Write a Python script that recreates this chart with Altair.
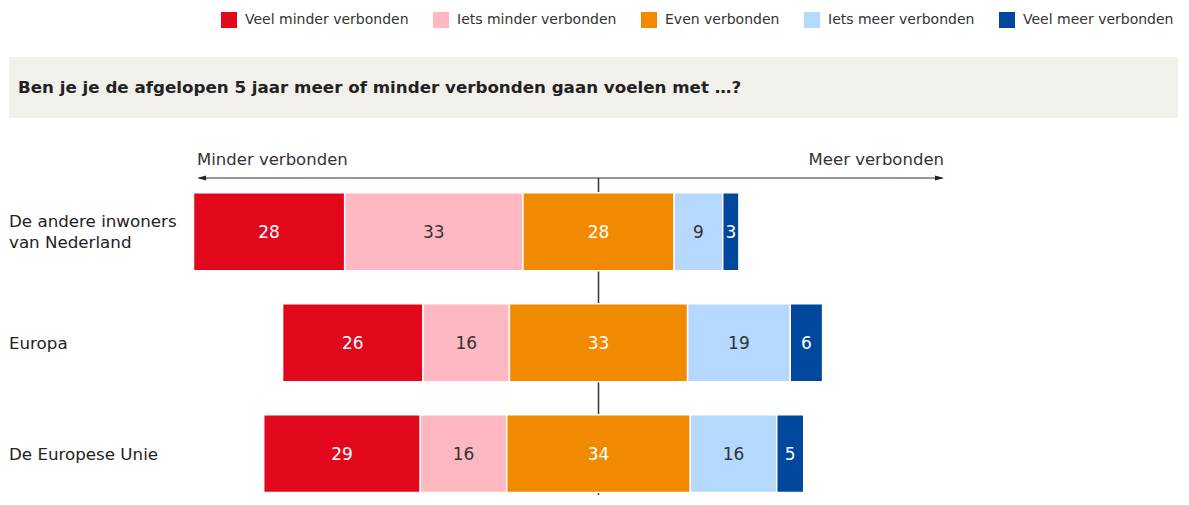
import altair as alt
import pandas as pd

# ---- data ----
categories = ["De andere inwoners|van Nederland", "Europa", "De Europese Unie"]
answers = ["Veel minder verbonden", "Iets minder verbonden", "Even verbonden",
           "Iets meer verbonden", "Veel meer verbonden"]
veel_minder = [28, 26, 29]
iets_minder = [33, 16, 16]
even = [28, 33, 34]
iets_meer = [9, 19, 16]
veel_meer = [3, 6, 5]

colors = ["#E2071B", "#FFB8C1", "#F18A00", "#B5D8FE", "#00479D"]
label_colors = ["white", "#333333", "white", "#333333", "white"]

title_text = "Ben je je de afgelopen 5 jaar meer of minder verbonden gaan voelen met \u2026?"
left_label = "Minder verbonden"
right_label = "Meer verbonden"

FONT = "DejaVu Sans"
W, H = 1170, 487
HALF = 0.3514          # half bar thickness in row units
YMIN, YMAX = -2.018, 2.373
PX_PER_ROW = H / (YMAX - YMIN)
LINE_H = 21

rows = []
series = [veel_minder, iets_minder, even, iets_meer, veel_meer]
for i, cat in enumerate(categories):
    start = -(veel_minder[i] + iets_minder[i] + even[i] / 2)
    for j, ans in enumerate(answers):
        v = series[j][i]
        rows.append({"cat": cat, "idx": i, "y0": i - HALF, "y1": i + HALF,
                     "answer": ans, "value": v, "x": start, "x2": start + v,
                     "mid": start + v / 2, "lc": label_colors[j]})
        start += v
df = pd.DataFrame(rows)
nlines = [c.count("|") + 1 for c in categories]
cat_df = pd.DataFrame({"cat": categories,
                       "ly": [i - (n - 1) * LINE_H / 2 / PX_PER_ROW for i, n in enumerate(nlines)]})
one = pd.DataFrame({"zero": [0], "title": [title_text], "left": [left_label], "right": [right_label]})

# arrow heads along the "less / more connected" axis (in value units)
heads = pd.DataFrame({"ax": [-73.5, 63.15], "side": ["l", "r"]})

xscale = alt.Scale(domain=[-109.35, 107.31], nice=False, zero=False)
yscale = alt.Scale(domain=[YMIN, YMAX], nice=False, zero=False, reverse=True)

band = alt.Chart(one).mark_rect(color="#F1F0EB").encode(
    x=alt.value(1), x2=alt.value(W), y=alt.value(49), y2=alt.value(110))
title = alt.Chart(one).mark_text(align="left", baseline="middle", font=FONT, fontSize=16.7,
                                  fontWeight="bold", color="#222222").encode(
    x=alt.value(10), y=alt.value(80), text="title:N")

arrow_line = alt.Chart(one).mark_rule(color="#333333", strokeWidth=1.1).encode(
    x=alt.value(191), x2=alt.value(934), y=alt.value(170))
head_l = alt.Chart(heads[heads.side == "l"]).mark_point(
    shape="M -1 0 L 1 -0.55 L 1 0.55 Z", filled=True, size=81, color="#222222",
    opacity=1, strokeWidth=0).encode(x=alt.X("ax:Q", scale=xscale, axis=None), y=alt.value(170))
head_r = alt.Chart(heads[heads.side == "r"]).mark_point(
    shape="M 1 0 L -1 -0.55 L -1 0.55 Z", filled=True, size=81, color="#222222",
    opacity=1, strokeWidth=0).encode(x=alt.X("ax:Q", scale=xscale, axis=None), y=alt.value(170))
lab_l = alt.Chart(one).mark_text(align="left", baseline="alphabetic", font=FONT, fontSize=16.5,
                                  color="#333333").encode(x=alt.value(189), y=alt.value(157), text="left:N")
lab_r = alt.Chart(one).mark_text(align="right", baseline="alphabetic", font=FONT, fontSize=16.5,
                                  color="#333333").encode(x=alt.value(936), y=alt.value(157), text="right:N")

center = alt.Chart(one).mark_rule(color="#333333", strokeWidth=1.5).encode(
    x=alt.X("zero:Q", scale=xscale, axis=None), y=alt.value(170), y2=alt.value(H))

bars = alt.Chart(df).mark_bar(stroke="white", strokeWidth=1.5).encode(
    x=alt.X("x:Q", scale=xscale, axis=None),
    x2="x2:Q",
    y=alt.Y("y0:Q", scale=yscale, axis=None),
    y2="y1:Q",
    color=alt.Color("answer:N", scale=alt.Scale(domain=answers, range=colors),
                    legend=alt.Legend(orient="none", legendX=213, legendY=4, direction="horizontal",
                                      title=None, symbolType="square", symbolSize=256,
                                      symbolStrokeWidth=0, symbolOpacity=1, labelFontSize=14,
                                      labelFont=FONT, labelColor="#333333", columnPadding=24,
                                      labelOffset=8, labelLimit=400)),
)

def value_labels(color):
    return alt.Chart(df[df["lc"] == color]).mark_text(
        font=FONT, fontSize=17, color=color, baseline="middle", align="center", dy=1.5).encode(
        x=alt.X("mid:Q", scale=xscale, axis=None),
        y=alt.Y("idx:Q", scale=yscale, axis=None),
        text="value:Q")

row_labels = alt.Chart(cat_df).mark_text(align="left", baseline="middle", font=FONT, fontSize=16.7,
                                         color="#222222", lineBreak="|", lineHeight=LINE_H, dy=1).encode(
    x=alt.value(1),
    y=alt.Y("ly:Q", scale=yscale, axis=None),
    text="cat:N")

chart = alt.layer(band, title, arrow_line, head_l, head_r, lab_l, lab_r, center, bars,
                  value_labels("white"), value_labels("#333333"), row_labels).properties(
    width=W, height=H, padding=0, autosize=alt.AutoSizeParams(type="none")
).configure_view(stroke=None)

chart.save("out.html", embed_options={"renderer": "svg", "actions": False})
